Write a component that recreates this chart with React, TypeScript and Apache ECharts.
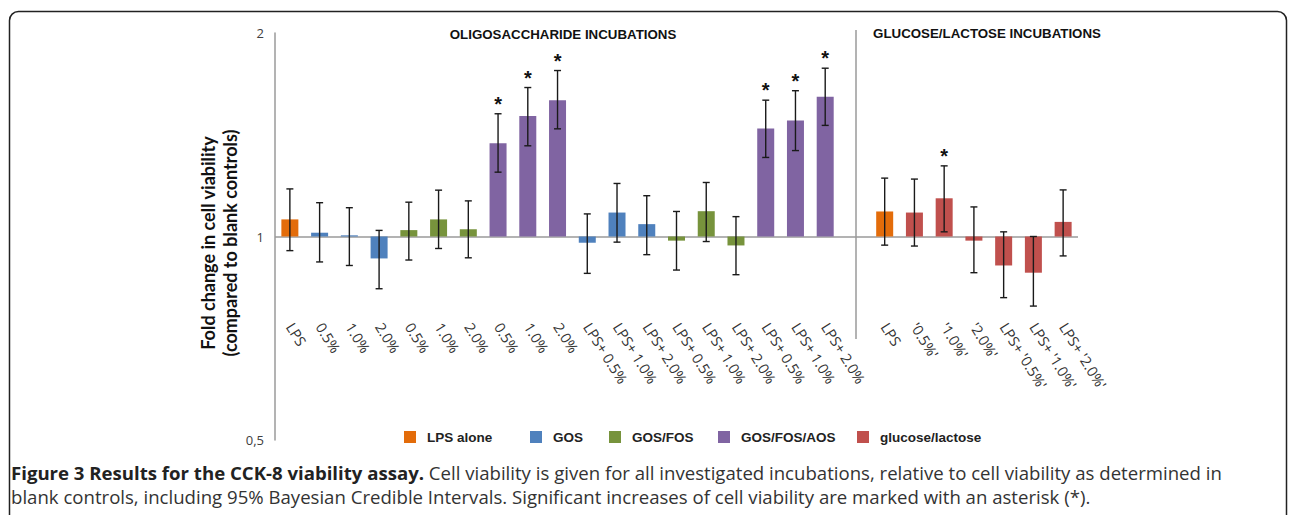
import React, { useEffect, useRef } from "react";
import * as echarts from "echarts";

// ---- data ----
const categories = [
  "LPS", "0.5%", "1.0%", "2.0%", "0.5%", "1.0%", "2.0%", "0.5%", "1.0%", "2.0%",
  "LPS+ 0.5%", "LPS+ 1.0%", "LPS+ 2.0%", "LPS+ 0.5%", "LPS+ 1.0%", "LPS+ 2.0%",
  "LPS+ 0.5%", "LPS+ 1.0%", "LPS+ 2.0%", "",
  "LPS", "'0.5%'", "'1.0%'", "'2.0%'", "LPS+ '0.5%'", "LPS+ '1.0%'", "LPS+ '2.0%'",
];
const seriesNames = ["LPS alone", "GOS", "GOS/FOS", "GOS/FOS/AOS", "glucose/lactose"];
const seriesColors = ["#E36C0A", "#4F81BD", "#77933C", "#8064A2", "#C0504D"];
// group index of every category (-1 = gap)
const groupOf = [0, 1, 1, 1, 2, 2, 2, 3, 3, 3, 1, 1, 1, 2, 2, 2, 3, 3, 3, -1, 0, 4, 4, 4, 4, 4, 4];
const foldChange = [
  1.06, 1.013, 1.004, 0.928, 1.022, 1.06, 1.025, 1.374, 1.508, 1.591,
  0.979, 1.085, 1.043, 0.986, 1.09, 0.97, 1.445, 1.485, 1.609, null,
  1.089, 1.085, 1.139, 0.986, 0.906, 0.884, 1.051,
];
const ciLow = [
  0.953, 0.917, 0.906, 0.837, 0.923, 0.96, 0.93, 1.245, 1.362, 1.443,
  0.882, 0.981, 0.94, 0.892, 0.983, 0.878, 1.309, 1.34, 1.46, null,
  0.971, 0.968, 1.016, 0.884, 0.812, 0.789, 0.936,
];
const ciHigh = [
  1.176, 1.122, 1.103, 1.021, 1.124, 1.171, 1.129, 1.519, 1.661, 1.76,
  1.08, 1.198, 1.149, 1.089, 1.202, 1.07, 1.591, 1.643, 1.774, null,
  1.22, 1.216, 1.272, 1.106, 1.016, 1.0, 1.172,
];
const significant = [
  0, 0, 0, 0, 0, 0, 0, 1, 1, 1,
  0, 0, 0, 0, 0, 0, 1, 1, 1, 0,
  0, 0, 1, 0, 0, 0, 0,
];
const yTicks = [0.5, 1, 2];
const legendLefts = [404, 530, 609, 718, 857];
const captionBold = "Figure 3 Results for the CCK-8 viability assay.";
const captionLine1 = " Cell viability is given for all investigated incubations, relative to cell viability as determined in";
const captionLine2 = "blank controls, including 95% Bayesian Credible Intervals. Significant increases of cell viability are marked with an asterisk (*).";

export default function App() {
  const ref = useRef<HTMLDivElement>(null);
  useEffect(() => {
    if (!ref.current) return;
    const chart = echarts.init(ref.current, null, { renderer: "svg" });

    const barSeries = seriesNames.map((name, g) => ({
      name,
      type: "bar",
      barWidth: 17,
      barGap: "-100%",
      itemStyle: { color: seriesColors[g] },
      data: foldChange.map((v, i) => (groupOf[i] === g ? v : null)),
      z: 2,
      ...(g === 0
        ? {
            markLine: {
              silent: true,
              symbol: "none",
              label: { show: false },
              lineStyle: { color: "#9a9a9a", width: 1.5, type: "solid" },
              data: [{ yAxis: 1 }],
              z: 1,
            },
          }
        : {}),
    }));

    const errData = foldChange
      .map((v, i) => (v == null ? null : [i, ciLow[i], ciHigh[i], significant[i]]))
      .filter((d) => d != null);

    const errSeries = {
      type: "custom",
      z: 5,
      encode: { x: 0, y: [1, 2] },
      data: errData,
      renderItem: (params: any, api: any) => {
        const i = api.value(0);
        const lo = api.coord([i, api.value(1)]);
        const hi = api.coord([i, api.value(2)]);
        const x = lo[0];
        const hw = 3.5;
        const st = { stroke: "#1a1a1a", lineWidth: 1.4 };
        const children: any[] = [
          { type: "line", shape: { x1: x, y1: hi[1], x2: x, y2: lo[1] }, style: st },
          { type: "line", shape: { x1: x - hw, y1: hi[1], x2: x + hw, y2: hi[1] }, style: st },
          { type: "line", shape: { x1: x - hw, y1: lo[1], x2: x + hw, y2: lo[1] }, style: st },
        ];
        if (api.value(3) === 1) {
          children.push({
            type: "text",
            x,
            y: hi[1] - 10,
            style: {
              text: "*",
              align: "center",
              verticalAlign: "middle",
              fontFamily: "Liberation Sans",
              fontWeight: "bold",
              fontSize: 20,
              fill: "#111",
            },
          });
        }
        return { type: "group", children };
      },
    };

    const legends = seriesNames.map((name, g) => ({
      data: [name],
      left: legendLefts[g],
      top: 430,
      orient: "horizontal",
      icon: "rect",
      itemWidth: 12,
      itemHeight: 12,
      selectedMode: false,
      padding: 0,
      textStyle: {
        fontFamily: "Liberation Sans",
        fontWeight: "bold",
        fontSize: 13.5,
        color: "#222",
        padding: [0, 0, 0, 6],
      },
    }));

    chart.setOption({
      animation: false,
      backgroundColor: "#fff",
      grid: { left: 275, top: 33, width: 803, height: 407, containLabel: false },
      legend: legends,
      xAxis: {
        type: "category",
        data: categories,
        position: "bottom",
        offset: -124,
        axisLine: { show: false },
        axisTick: { show: false },
        axisLabel: {
          interval: 0,
          rotate: -58,
          margin: 8,
          fontFamily: "Open Sans",
          fontSize: 14.5,
          color: "#333",
        },
      },
      yAxis: {
        type: "log",
        logBase: 2,
        min: 0.5,
        max: 2,
        interval: 1,
        axisLine: { show: true, lineStyle: { color: "#9a9a9a", width: 1.5 } },
        axisTick: { show: false },
        splitLine: { show: false },
        axisLabel: {
          margin: 11,
          fontFamily: "Open Sans",
          fontSize: 13,
          color: "#404040",
          formatter: (v: number) => {
            const t = yTicks.find((k) => Math.abs(k - v) < 1e-6);
            return t == null ? "" : String(t).replace(".", ",");
          },
        },
      },
      series: [...barSeries, errSeries],
      graphic: [
        {
          type: "rect",
          shape: { x: 9.5, y: 11.5, width: 1277, height: 600, r: 9 },
          style: { fill: "none", stroke: "#222", lineWidth: 1.5 },
          silent: true,
        },
        {
          type: "line",
          shape: { x1: 856, y1: 30, x2: 856, y2: 339 },
          style: { stroke: "#9a9a9a", lineWidth: 1.5 },
          silent: true,
        },
        {
          type: "text",
          x: 563,
          y: 34,
          style: {
            text: "OLIGOSACCHARIDE INCUBATIONS",
            align: "center",
            verticalAlign: "middle",
            fontFamily: "Liberation Sans",
            fontWeight: "bold",
            fontSize: 13.3,
            fill: "#111",
          },
        },
        {
          type: "text",
          x: 987,
          y: 33,
          style: {
            text: "GLUCOSE/LACTOSE INCUBATIONS",
            align: "center",
            verticalAlign: "middle",
            fontFamily: "Liberation Sans",
            fontWeight: "bold",
            fontSize: 13.3,
            fill: "#111",
          },
        },
        {
          type: "text",
          x: 219,
          y: 243,
          rotation: Math.PI / 2,
          style: {
            text: "Fold change in cell viability\n(compared to blank controls)",
            align: "center",
            verticalAlign: "middle",
            fontFamily: "Lato",
            fontWeight: "bold",
            fontSize: 18,
            lineHeight: 22,
            fill: "#111",
          },
        },
        {
          type: "text",
          x: 11,
          y: 472,
          style: {
            text: `{b|${captionBold}}{r|${captionLine1}}`,
            align: "left",
            verticalAlign: "middle",
            rich: {
              b: { fontFamily: "Open Sans", fontWeight: "bold", fontSize: 18.6, lineHeight: 22, fill: "#222" },
              r: { fontFamily: "Open Sans", fontSize: 18.6, lineHeight: 22, fill: "#333" },
            },
          },
        },
        {
          type: "text",
          x: 11,
          y: 496,
          style: {
            text: captionLine2,
            align: "left",
            verticalAlign: "middle",
            fontFamily: "Open Sans",
            fontSize: 18.6,
            lineHeight: 22,
            fill: "#333",
          },
        },
      ],
    });
    return () => chart.dispose();
  }, []);
  return (
    <div
      ref={ref}
      style={{ position: "absolute", left: 0, top: 0, width: 1290, height: 515, background: "#fff" }}
    />
  );
}
